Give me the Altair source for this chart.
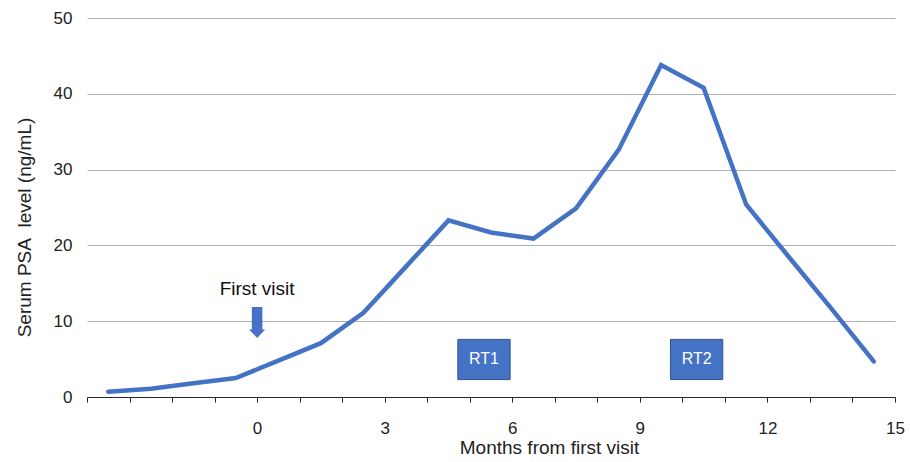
import altair as alt
import pandas as pd

months = [-3.5, -2.5, -1.5, -0.5, 0.5, 1.5, 2.5, 3.5, 4.5, 5.5, 6.5, 7.5, 8.5, 9.5, 10.5, 11.5, 12.5, 13.5, 14.5]
psa = [0.7, 1.1, 1.8, 2.5, 4.8, 7.1, 11.1, 17.2, 23.3, 21.7, 20.9, 24.9, 32.6, 43.8, 40.8, 25.4, 18.5, 11.7, 4.7]

rt_labels = ["RT1", "RT2"]
rt_start = [4.72, 9.72]
rt_end = [5.95, 10.95]
rt_low = [2.3, 2.3]
rt_high = [7.6, 7.6]

visit_label = ["First visit"]
visit_x = [0]
visit_text_y = [13.5]
visit_arrow_y = [9.83]

blue = "#4472C4"
font = "Liberation Sans"

df = pd.DataFrame({"m": months, "psa": psa})
rt = pd.DataFrame({"label": rt_labels, "x1": rt_start, "x2": rt_end, "y1": rt_low, "y2": rt_high})
rt["xc"] = (rt["x1"] + rt["x2"]) / 2
rt["yc"] = (rt["y1"] + rt["y2"]) / 2
visit = pd.DataFrame({"label": visit_label, "x": visit_x, "ty": visit_text_y, "ay": visit_arrow_y})

xscale = alt.Scale(domain=[-4, 15], nice=False, zero=False)
yscale = alt.Scale(domain=[0, 50], nice=False)

line = alt.Chart(df).mark_line(color=blue, strokeWidth=4.5, strokeCap="round", strokeJoin="miter").encode(
    x=alt.X("m:Q", scale=xscale,
            axis=alt.Axis(values=list(range(-4, 16)), title="Months from first visit",
                          labelExpr="datum.value >= 0 && datum.value % 3 == 0 ? datum.label : ''",
                          grid=False, domainColor="#262626", domainWidth=1.2,
                          tickColor="#262626", tickSize=5, labelPadding=18, labelFlush=False,
                          labelFontSize=17, labelColor="#222222", labelFont=font,
                          titleFontSize=19, titleFont=font, titleFontWeight="normal",
                          titleColor="#222222", titleX=462, titleY=56,
                          titleBaseline="alphabetic", titleAlign="center")),
    y=alt.Y("psa:Q", scale=yscale,
            axis=alt.Axis(values=[0, 10, 20, 30, 40, 50], title="Serum PSA\u00a0 level (ng/mL)",
                          domain=False, ticks=False, grid=True, gridColor="#b0b0b0", gridWidth=1,
                          labelPadding=15, labelFontSize=17, labelColor="#222222", labelFont=font,
                          titleFontSize=19, titleFont=font, titleFontWeight="normal",
                          titleColor="#222222", titleX=-63, titleY=209, titleAngle=-90,
                          titleBaseline="middle", titleAlign="center")),
)

boxes = alt.Chart(rt).mark_rect(fill=blue, stroke="#2F528F", strokeWidth=1).encode(
    x="x1:Q", x2="x2:Q", y="y1:Q", y2="y2:Q"
)
box_text = alt.Chart(rt).mark_text(color="white", fontSize=16, font=font).encode(
    x="xc:Q", y="yc:Q", text="label:N"
)

visit_text = alt.Chart(visit).mark_text(color="#111111", fontSize=19, font=font, baseline="alphabetic").encode(
    x="x:Q", y="ty:Q", text="label:N"
)
arrow = alt.Chart(visit).mark_point(
    shape="M-0.34,-1 L0.34,-1 L0.34,0.45 L0.52,0.45 L0,1 L-0.52,0.45 L-0.34,0.45 Z",
    size=961, filled=True, fill=blue, opacity=1, strokeWidth=0
).encode(x="x:Q", y="ay:Q")

chart = alt.layer(line, boxes, box_text, visit_text, arrow).properties(
    width=808, height=379,
    autosize=alt.AutoSizeParams(type="none"),
    padding={"left": 87, "top": 18, "right": 15, "bottom": 65},
).configure_view(stroke=None)

chart.save("out.html", embed_options={"renderer": "svg", "actions": False})
